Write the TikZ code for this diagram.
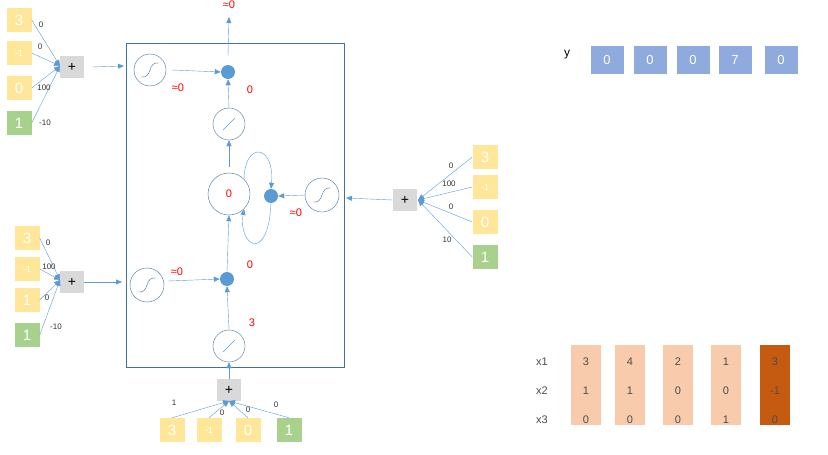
\documentclass[tikz,border=0pt]{standalone}
\usepackage{fontspec}
\setmainfont{Liberation Sans}
\usetikzlibrary{arrows.meta}
\definecolor{yel}{HTML}{FFE699}
\definecolor{grn}{HTML}{A9D18E}
\definecolor{arr}{HTML}{5B9BD5}
\definecolor{frm}{HTML}{44709D}
\definecolor{pl}{HTML}{D9D9D9}
\definecolor{yb}{HTML}{8FAADC}
\definecolor{pe}{HTML}{F8CBAD}
\definecolor{dor}{HTML}{C55A11}
\begin{document}
\begin{tikzpicture}[x=1pt,y=-1pt,
 inp/.style={fill=yel,minimum width=25pt,minimum height=24pt,inner sep=0,text=white,font=\fontsize{15}{15}\selectfont},
 inpg/.style={inp,fill=grn},
 sm/.style={inp,font=\fontsize{9}{9}\selectfont},
 plus/.style={fill=pl,minimum width=24pt,minimum height=22pt,inner sep=0,font=\fontsize{14}{14}\selectfont},
 w/.style={font=\fontsize{8}{8}\selectfont,text=black!80},
 rtxt/.style={text=red,font=\fontsize{11}{11}\selectfont},
 ar/.style={draw=arr,-{Triangle[length=6pt,width=5pt]},thin},
 circ/.style={draw=frm,circle,minimum size=#1,inner sep=0},
 dot/.style={circle,fill=arr,minimum size=14pt,inner sep=0},
 ybx/.style={fill=yb,minimum width=33pt,minimum height=28pt,inner sep=0,text=white,font=\fontsize{13}{13}\selectfont},
 col/.style={fill=pe,minimum width=30pt,minimum height=80pt,inner sep=0},
 tv/.style={text=black!70,font=\fontsize{11}{11}\selectfont},
 sig/.style={draw=frm,thin},
]
\useasboundingbox (0,0) rectangle (828,455);
% main frame
\draw[frm] (126,43) rectangle (344,367);
% top-left group
\node[inp] (a1) at (19,20) {3};
\node[sm] (a2) at (19,53) {-1};
\node[inp] (a3) at (19,88) {0};
\node[inpg] (a4) at (19,123) {1};
\node[plus] (p1) at (72,67) {+};
\coordinate (p1w) at (60,66);
\foreach \n in {a1,a2,a3,a4} \draw[ar] (\n.east) -- (p1w);
\node[w] at (41,25) {0};
\node[w] at (40,47) {0};
\node[w] at (44,88) {100};
\node[w] at (45,123) {-10};
\node[circ=32pt] (s1) at (150,70) {};
\draw[sig] (141,77) .. controls (153,79) and (147,61) .. (159,63);
\coordinate (f1) at (124,66);
\draw[ar] ([xshift=8pt]p1.east) -- (f1);
\node[dot] (d1) at (228,72) {};
\draw[ar] ([xshift=6pt]s1.east) -- (d1.west);
\node[rtxt] at (178,88) {≈0};
\node[rtxt] at (250,90) {0};
\coordinate (outt) at (229,17);
\draw[ar] ([yshift=9pt]d1.north) -- (outt);
\node[rtxt] at (229,5) {≈0};
\node[circ=32pt] (l1) at (229,124) {};
\draw[arr] (223,130) -- (235,118);
\draw[ar] (l1.north) -- (d1.south);
\node[circ=42pt,rtxt] (c) at (229,194) {0};
\draw[ar] ([yshift=6pt]c.north) -- (l1.south);
\node[dot] (d2) at (271,196) {};
\draw[ar] (c.north east) .. controls (245,140) and (275,145) .. (d2.north);
\draw[ar] (d2.south) .. controls (268,265) and (238,245) .. (c.south east);
\node[circ=34pt] (s2) at (322,195) {};
\draw[sig] (313,202) .. controls (325,204) and (319,186) .. (331,188);
\draw[ar] (s2.west) -- (d2.east);
\node[rtxt] at (296,213) {≈0};
% right group
\node[plus] (p2) at (405,200) {+};
\coordinate (p2i) at (346,198);
\draw[ar] (p2.west) -- (p2i);
\node[inp] (b1) at (485,157) {3};
\node[sm] (b2) at (485,187) {-1};
\node[inp] (b3) at (485,222) {0};
\node[inpg] (b4) at (485,257) {1};
\coordinate (p2e) at (418,200);
\foreach \n in {b1,b2,b3,b4} \draw[ar] (\n.west) -- (p2e);
\node[w] at (451,166) {0};
\node[w] at (449,184) {100};
\node[w] at (451,207) {0};
\node[w] at (447,240) {10};
% lower-left group
\node[inp] (c1) at (27,238) {3};
\node[sm] (c2) at (27,269) {-1};
\node[inp] (c3) at (27,300) {1};
\node[inpg] (c4) at (27,335) {1};
\node[plus] (p3) at (72,282) {+};
\coordinate (p3w) at (60,280);
\foreach \n in {c1,c2,c3,c4} \draw[ar] (\n.east) -- (p3w);
\node[w] at (48,243) {0};
\node[w] at (49,267) {100};
\node[w] at (47,298) {0};
\node[w] at (56,327) {-10};
\coordinate (p3t) at (122,282);
\draw[ar] (p3.east) -- (p3t);
\node[circ=34pt] (s3) at (147,285) {};
\draw[sig] (138,292) .. controls (150,294) and (144,276) .. (156,278);
\node[dot] (d3) at (227,279) {};
\draw[ar] ([shift={(4pt,4pt)}]s3.east) -- (d3.west);
\node[rtxt] at (177,272) {≈0};
\node[rtxt] at (250,265) {0};
\draw[ar] (d3.north) -- (c.south);
\node[circ=32pt] (l2) at (229,346) {};
\draw[arr] (223,352) -- (235,340);
\node[rtxt] at (252,323) {3};
\draw[ar] (l2.north) -- (d3.south);
% bottom group
\node[plus] (p4) at (229,390) {+};
\draw[ar] (p4.north) -- (l2.south);
\node[inp] (e1) at (172,430) {3};
\node[sm] (e2) at (209,430) {-1};
\node[inp] (e3) at (248,430) {0};
\node[inpg] (e4) at (289,430) {1};
\coordinate (p4s) at (229,401);
\foreach \n in {e1,e2,e3,e4} \draw[ar] (\n.north) -- (p4s);
\node[w] at (174,403) {1};
\node[w] at (222,413) {0};
\node[w] at (248,410) {0};
\node[w] at (276,405) {0};
% y row
\node[font=\fontsize{12}{12}\selectfont] (ylab) at (567,55) {y};
\foreach \x/\v [count=\i] in {607/0,650/0,693/0,735/7,781/0} \node[ybx] (y\i) at (\x,60) {\v};
% table
\foreach \x [count=\i] in {586,630,678,726} \node[col] (t\i) at (\x,385) {};
\node[col,fill=dor] (t5) at (775,385) {};
\node[tv] (x1) at (542,362) {x1};
\node[tv] (x2) at (542,391) {x2};
\node[tv] (x3) at (542,420) {x3};
\foreach \x/\a/\b/\c in {586/3/1/0,630/4/1/0,678/2/0/0,726/1/0/1,775/3/-1/0} {
 \node[tv] at (\x,362) {\a}; \node[tv] at (\x,391) {\b}; \node[tv] at (\x,420) {\c};}
\end{tikzpicture}
\end{document}
